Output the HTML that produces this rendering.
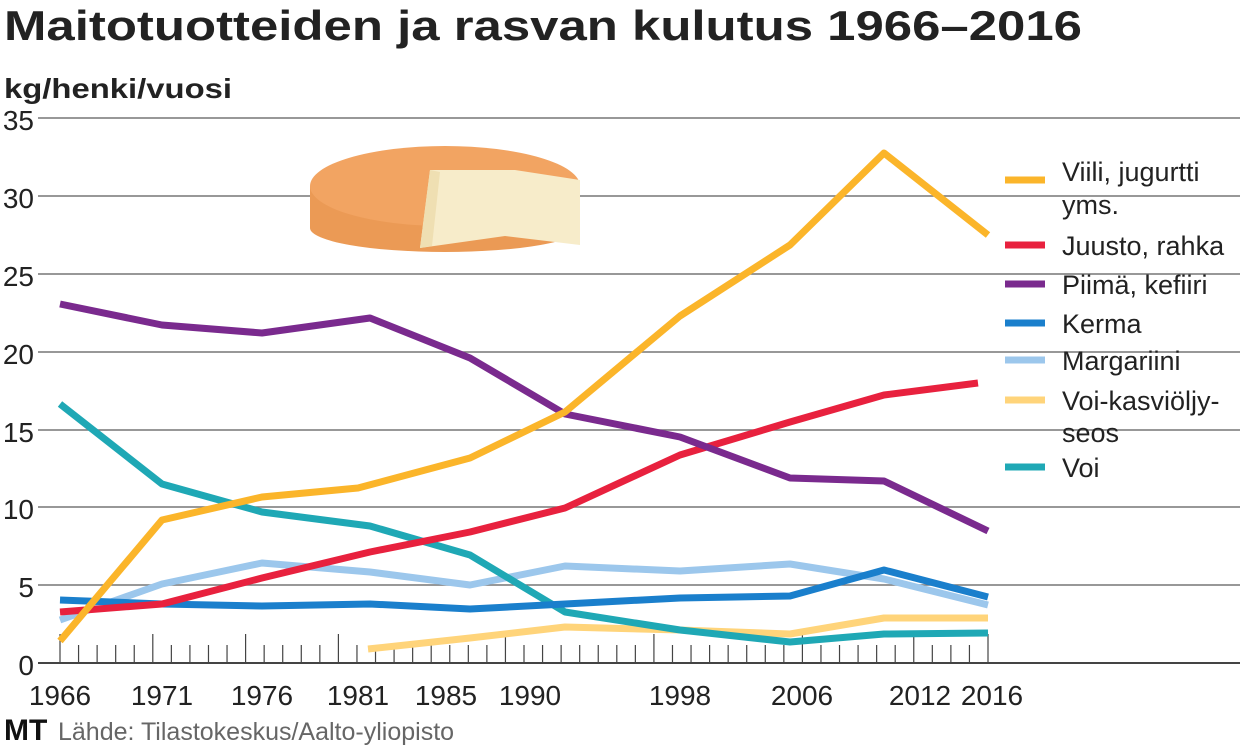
<!DOCTYPE html>
<html><head><meta charset="utf-8"><style>
body{margin:0;background:#fff;width:1240px;height:750px;overflow:hidden}
svg{display:block}
text{font-family:"Liberation Sans",sans-serif}
</style></head><body>
<svg width="1240" height="750" viewBox="0 0 1240 750">
<text x="4" y="40" font-size="42" font-weight="bold" fill="#222" textLength="1078" lengthAdjust="spacingAndGlyphs">Maitotuotteiden ja rasvan kulutus 1966–2016</text>
<text x="4" y="98" font-size="28" font-weight="bold" fill="#222" textLength="228" lengthAdjust="spacingAndGlyphs">kg/henki/vuosi</text>
<g stroke="#777" stroke-width="1.5">
<line x1="38" y1="118" x2="1240" y2="118"/><line x1="38" y1="196" x2="1240" y2="196"/>
<line x1="38" y1="274" x2="1240" y2="274"/><line x1="38" y1="352" x2="1240" y2="352"/>
<line x1="38" y1="430" x2="1240" y2="430"/><line x1="38" y1="507" x2="1240" y2="507"/>
<line x1="38" y1="585" x2="1240" y2="585"/></g>
<line x1="38" y1="663" x2="1240" y2="663" stroke="#444" stroke-width="2"/>
<g font-size="28" fill="#222" text-anchor="end">
<text x="34" y="130">35</text><text x="34" y="208">30</text><text x="34" y="286">25</text>
<text x="34" y="364">20</text><text x="34" y="442">15</text><text x="34" y="519">10</text>
<text x="34" y="597">5</text><text x="34" y="675">0</text></g>
<g id="ticks" stroke="#444" stroke-width="1.2"></g>
<!-- cheese -->
<rect x="310" y="186" width="270" height="42" fill="#eb9a55"/>
<ellipse cx="445" cy="228" rx="135" ry="24" fill="#eb9a55"/>
<ellipse cx="445" cy="186" rx="135" ry="40" fill="#f2a462"/>
<path d="M430 170 L515 170 L580 180 L580 245 L505 236 L420 248 Z" fill="#f7ecca"/>
<path d="M420 248 L430 170 L440 172 L432 246 Z" fill="#efdfb2"/>
<g fill="none" stroke-width="7" stroke-linejoin="round" stroke-linecap="butt">
<polyline stroke="#9cc7ec" points="60,620 162,584 262,563 370,572 470,585 565,566 680,571 790,564 884,579 988,605"/>
<polyline stroke="#ffd47a" points="368,649 470,638 565,627 680,630 790,634 884,618 988,618"/>
<polyline stroke="#1fa8b5" points="60,404 162,484 262,512 370,526 470,555 565,612 680,630 790,642 884,634 988,633"/>
<polyline stroke="#1a7fcc" points="60,600 162,604 262,606 370,604 470,609 565,604 680,598 790,596 884,570 988,597"/>
<polyline stroke="#e8213e" points="60,612 162,604 262,578 370,552 470,532 565,508 680,455 790,422 884,395 978,383"/>
<polyline stroke="#7a2a8e" points="60,304 162,325 262,333 370,318 470,358 565,414 680,437 790,478 884,481 988,531"/>
<polyline stroke="#fbb52a" points="60,641 162,520 262,497 358,488 470,458 565,412 680,316 790,245 884,153 988,235"/>
</g>
<g stroke-width="7">
<line x1="1005" y1="180" x2="1045" y2="180" stroke="#fbb52a"/>
<line x1="1005" y1="245" x2="1045" y2="245" stroke="#e8213e"/>
<line x1="1005" y1="284" x2="1045" y2="284" stroke="#7a2a8e"/>
<line x1="1005" y1="323" x2="1045" y2="323" stroke="#1a7fcc"/>
<line x1="1005" y1="360" x2="1045" y2="360" stroke="#9cc7ec"/>
<line x1="1005" y1="400" x2="1045" y2="400" stroke="#ffd47a"/>
<line x1="1005" y1="467" x2="1045" y2="467" stroke="#1fa8b5"/>
</g>
<g font-size="27" fill="#222">
<text x="1062" y="181">Viili, jugurtti</text><text x="1062" y="214">yms.</text>
<text x="1062" y="255">Juusto, rahka</text><text x="1062" y="294">Piimä, kefiiri</text>
<text x="1062" y="333">Kerma</text><text x="1062" y="370">Margariini</text>
<text x="1062" y="410">Voi-kasviöljy-</text><text x="1062" y="442">seos</text>
<text x="1062" y="477">Voi</text></g>
<g font-size="28" fill="#222" text-anchor="middle">
<text x="60" y="705">1966</text><text x="162" y="705">1971</text><text x="262" y="705">1976</text>
<text x="358" y="705">1981</text><text x="446" y="705">1985</text><text x="530" y="705">1990</text>
<text x="680" y="705">1998</text><text x="802" y="705">2006</text><text x="920" y="705">2012</text><text x="992" y="705">2016</text></g>
<text x="4" y="740" font-size="30" font-weight="bold" font-family="Liberation Serif" fill="#111">MT</text>
<text x="58" y="740" font-size="25" fill="#666">Lähde: Tilastokeskus/Aalto-yliopisto</text>
</svg>
<script>
(function(){
var g=document.getElementById('ticks'),s='';
var major=[1966,1971,1976,1981,1990,1998,2006,2012,2016];
for(var yr=1966;yr<=2016;yr++){var xx=60+(yr-1966)*18.56;var ty=major.indexOf(yr)>=0?634:645;
s+='<line x1="'+xx+'" y1="'+ty+'" x2="'+xx+'" y2="663"/>';}
g.innerHTML=s;
})();
</script>
</body></html>
